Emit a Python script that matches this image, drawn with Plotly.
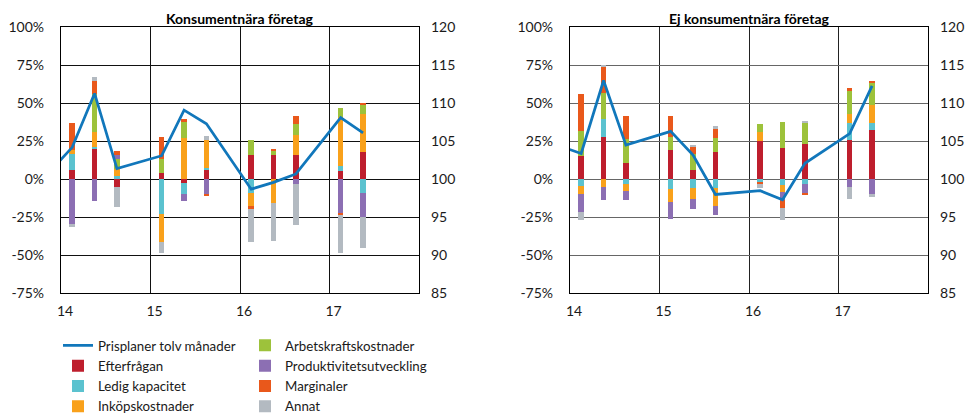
import plotly.graph_objects as go

# ---------------- data ----------------
quarters = ["2014Q1", "2014Q2", "2014Q3", "2015Q1", "2015Q2", "2015Q3",
            "2016Q1", "2016Q2", "2016Q3", "2017Q1", "2017Q2"]
line_quarters = ["2013Q3"] + quarters
year_ticks = [14, 15, 16, 17]
year_labels = ["14", "15", "16", "17"]
pct_ticks = [-75, -50, -25, 0, 25, 50, 75, 100]
pct_labels = ["-75%", "-50%", "-25%", "0%", "25%", "50%", "75%", "100%"]
idx_ticks = [85, 90, 95, 100, 105, 110, 115, 120]

# Konsumentnära företag (percent of answers)
efter_k = [6.0, 19.8, -5.5, 4.2, -2.6, 6.0, 15.5, 16.0, 15.8, 5.5, 17.6]
ledig_k = [10.5, 1.5, 2.0, -23.0, -7.5, 1.5, -9.5, 0.0, 0.0, 2.9, -9.4]
inkop_k = [2.6, 9.3, 4.4, -18.2, 26.7, 18.2, -8.8, -15.9, 13.4, 32.2, 25.0]
arbets_k = [0.0, 25.3, 7.0, 8.8, 11.0, 0.0, 9.9, 2.6, 7.2, 6.4, 6.6]
prod_k = [-29.6, -14.3, 2.5, 0.0, -4.7, -10.0, 0.0, 0.0, -3.3, -22.6, -15.5]
marg_k = [18.0, 8.6, 2.5, 14.5, 2.0, -1.5, -1.2, 0.6, 5.0, -1.1, 0.6]
annat_k = [-2.2, 2.9, -13.0, -7.7, 0.0, 2.6, -22.2, -24.7, -26.8, -25.2, -20.8]
pris_k = [97.8, 104.2, 111.3, 101.4, 103.1, 109.1, 107.3, 98.7, 99.6, 100.7, 108.1, 106.1]

# Ej konsumentnära företag
efter_e = [14.9, 27.4, 10.5, 19.3, 5.9, 17.5, 25.2, 20.2, 22.8, 25.7, 32.2]
ledig_e = [-4.8, 12.1, -3.1, -6.6, -6.1, -5.9, -2.0, -4.0, -3.5, 11.4, 4.4]
inkop_e = [-5.3, -5.3, -4.8, -8.6, -6.8, -12.0, 5.5, -4.5, 0.0, 5.5, 12.1]
arbets_e = [16.9, 17.1, 15.8, 8.1, 10.5, 9.6, 5.3, 17.3, 14.3, 15.8, 14.3]
prod_e = [-11.8, -8.3, -5.7, -11.2, -6.6, -5.5, 0.0, -5.3, -5.9, -5.0, -10.1]
marg_e = [24.3, 17.5, 14.9, 14.3, 4.4, 5.7, -1.5, -5.0, -1.1, 1.3, 1.5]
annat_e = [-4.8, 0.7, 0.0, 0.0, 1.8, 1.8, -2.2, -8.0, 0.9, -7.9, -1.8]
pris_e = [105.4, 103.4, 113.0, 104.5, 106.3, 103.2, 98.0, 98.5, 97.3, 102.1, 106.0, 112.3]

series_names = ["Efterfrågan", "Ledig kapacitet", "Inköpskostnader",
                "Arbetskraftskostnader", "Produktivitetsutveckling",
                "Marginaler", "Annat"]
series_colors = ["#BE1E2D", "#5BC2CF", "#F9A11B", "#9DC23B",
                 "#8C6FB3", "#E9581B", "#B3BAC1"]
line_name = "Prisplaner tolv månader"
line_color = "#1177BB"


def qpos(q):
    """Quarter label -> decimal year (two-digit) at the middle of the quarter."""
    y = int(q[:4]) - 2000
    n = int(q[-1])
    return y + (n - 0.5) / 4.0


xq = [qpos(q) for q in quarters]
xl = [qpos(q) for q in line_quarters]

FONT = "Lato, 'Noto Sans', sans-serif"
fig = go.Figure()

left_series = [efter_k, ledig_k, inkop_k, arbets_k, prod_k, marg_k, annat_k]
right_series = [efter_e, ledig_e, inkop_e, arbets_e, prod_e, marg_e, annat_e]

legend_of = ["legend", "legend", "legend", "legend2", "legend2", "legend2", "legend2"]

for i, (name, col, vals) in enumerate(zip(series_names, series_colors, left_series)):
    fig.add_trace(go.Bar(x=xq, y=vals, name=name, marker_color=col,
                         marker_line_width=0, width=0.062,
                         xaxis="x", yaxis="y", showlegend=True,
                         legend=legend_of[i], legendrank=10 + i))
fig.add_trace(go.Scatter(x=xl, y=pris_k, mode="lines", name=line_name,
                         line=dict(color=line_color, width=2.75),
                         xaxis="x", yaxis="y2", legend="legend", legendrank=1))

for i, (name, col, vals) in enumerate(zip(series_names, series_colors, right_series)):
    fig.add_trace(go.Bar(x=xq, y=vals, name=name, marker_color=col,
                         marker_line_width=0, width=0.062,
                         xaxis="x2", yaxis="y3", showlegend=False))
fig.add_trace(go.Scatter(x=xl, y=pris_e, mode="lines", name=line_name,
                         line=dict(color=line_color, width=2.75),
                         xaxis="x2", yaxis="y4", showlegend=False))

ydom = [0.2916, 0.9341]
tickfont = dict(family=FONT, size=14, color="#1a1a1a")


def xax(domain, anchor, grid):
    return dict(domain=domain, anchor=anchor, range=[14, 18],
                tickvals=year_ticks, ticktext=year_labels,
                showgrid=True, gridcolor=grid, gridwidth=1.2,
                showline=True, mirror=True, linecolor="#000", linewidth=1.2,
                zeroline=False, ticks="", tickfont=tickfont,
                ticklabelshift=4, ticklabelstandoff=5, fixedrange=True)


def yax_pct(domain, anchor, grid):
    return dict(domain=domain, anchor=anchor, range=[-75, 100],
                tickvals=pct_ticks, ticktext=pct_labels,
                showgrid=True, gridcolor=grid,
                gridwidth=1.4, showline=True, mirror=True, linecolor="#000",
                linewidth=1.2, zeroline=False, ticks="", tickfont=tickfont,
                ticklabelstandoff=13, fixedrange=True)


def yax_idx(overlay, anchor):
    return dict(overlaying=overlay, anchor=anchor, side="right",
                range=[85, 120], tickvals=idx_ticks, showgrid=False,
                zeroline=False, ticks="", tickfont=tickfont,
                ticklabelstandoff=11, fixedrange=True)


legend_font = dict(family=FONT, size=13.3, color="#1a1a1a")

fig.update_layout(
    width=970, height=414,
    margin=dict(l=0, r=0, t=0, b=0, autoexpand=False),
    paper_bgcolor="white", plot_bgcolor="white",
    barmode="relative", bargap=0,
    font=dict(family=FONT, size=13, color="#1a1a1a"),
    xaxis=xax([61 / 970, 419 / 970], "y", "#111"),
    yaxis=yax_pct(ydom, "x", "#111"),
    yaxis2=yax_idx("y", "x"),
    xaxis2=xax([570 / 970, 928 / 970], "y3", "#222"),
    yaxis3=yax_pct(ydom, "x2", "#666"),
    yaxis4=yax_idx("y3", "x2"),
    legend=dict(x=58 / 970, y=(414 - 330.2) / 414, xanchor="left", yanchor="top",
                orientation="v", bgcolor="rgba(0,0,0,0)", itemwidth=30,
                font=legend_font, traceorder="normal"),
    legend2=dict(x=245 / 970, y=(414 - 330.2) / 414, xanchor="left", yanchor="top",
                 orientation="v", bgcolor="rgba(0,0,0,0)", itemwidth=30,
                 font=legend_font, traceorder="normal"),
    annotations=[
        dict(text="<b>Konsumentnära företag</b>", x=240 / 970, y=(414 - 19) / 414,
             xref="paper", yref="paper", xanchor="center", yanchor="middle",
             showarrow=False, font=dict(family=FONT, size=14, color="#000")),
        dict(text="<b>Ej konsumentnära företag</b>", x=749 / 970, y=(414 - 19) / 414,
             xref="paper", yref="paper", xanchor="center", yanchor="middle",
             showarrow=False, font=dict(family=FONT, size=14, color="#000")),
    ],
)

fig.write_html("out.html")
